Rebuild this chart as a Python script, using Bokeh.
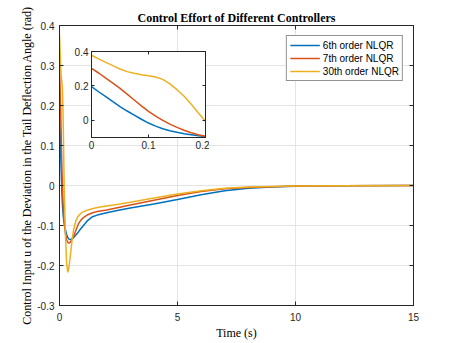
from bokeh.plotting import figure
from bokeh.models import (Range1d, LinearAxis, FixedTicker, Legend, LegendItem,
                          NumeralTickFormatter, CustomJSTickFormatter)
from bokeh.embed import file_html
from bokeh.resources import INLINE

# ---------------- data ----------------
time_s = [0, 0.0125, 0.025, 0.0375, 0.05, 0.0625, 0.075, 0.0875, 0.1, 0.1125,
          0.125, 0.1375, 0.15, 0.1625, 0.175, 0.1875, 0.2,
          0.25, 0.3, 0.35, 0.4, 0.45, 0.5, 0.55, 0.6, 0.7, 0.8, 0.9, 1.0, 1.2,
          1.4, 1.6, 2.0, 2.5, 3.0, 4.0, 5.0, 6.0, 7.0, 8.0, 9.0, 10.0, 12.0, 15.0]

u_6th = [0.196, 0.166, 0.137, 0.108, 0.080, 0.054, 0.030, 0.006, -0.016, -0.034,
         -0.049, -0.061, -0.070, -0.078, -0.084, -0.090, -0.094,
         -0.110, -0.122, -0.130, -0.134, -0.135, -0.135, -0.133, -0.130, -0.123,
         -0.116, -0.108, -0.101, -0.087, -0.078, -0.074, -0.068, -0.062, -0.056,
         -0.046, -0.035, -0.023, -0.013, -0.007, -0.004, -0.002, -0.0005, 0.0]

u_7th = [0.302, 0.275, 0.245, 0.216, 0.186, 0.152, 0.118, 0.084, 0.052, 0.024,
         0.000, -0.022, -0.041, -0.058, -0.072, -0.084, -0.093,
         -0.120, -0.135, -0.142, -0.144, -0.142, -0.137, -0.131, -0.126, -0.111,
         -0.096, -0.087, -0.081, -0.073, -0.068, -0.065, -0.061, -0.055, -0.049,
         -0.037, -0.025, -0.015, -0.008, -0.005, -0.003, -0.0015, -0.0005, 0.0]

u_30th = [0.378, 0.357, 0.337, 0.318, 0.298, 0.283, 0.273, 0.265, 0.259, 0.252,
          0.238, 0.212, 0.178, 0.140, 0.093, 0.043, -0.006,
          -0.120, -0.192, -0.217, -0.205, -0.180, -0.154, -0.128, -0.110, -0.087,
          -0.076, -0.070, -0.066, -0.061, -0.058, -0.055, -0.051, -0.047, -0.042,
          -0.031, -0.021, -0.013, -0.007, -0.004, -0.0025, -0.0015, -0.0005, 0.0]

series_names = ["6th order NLQR", "7th order NLQR", "30th order NLQR"]
x_ticks = [0, 5, 10, 15]
y_ticks = [-0.3, -0.2, -0.1, 0, 0.1, 0.2, 0.3, 0.4]
inset_x_ticks = [0, 0.1, 0.2]
inset_y_ticks = [0, 0.2, 0.4]

colors = ["#0072BD", "#D95319", "#EDB120"]
series = [u_6th, u_7th, u_30th]

AX = "#262626"
SANS = "Liberation Sans"
SERIF = "Liberation Serif"

# ---------------- main figure ----------------
p = figure(width=457, height=343, output_backend="svg", toolbar_location=None,
           x_range=Range1d(0, 15), y_range=Range1d(-0.3, 0.4),
           min_border_left=59, min_border_right=44, min_border_top=25,
           min_border_bottom=38, title="Control Effort of Different Controllers",
           outline_line_color=AX, outline_line_width=0.8)
p.title.text_font = SERIF
p.title.text_font_size = "12px"
p.title.text_font_style = "bold"
p.title.align = "center"
p.title.standoff = 1
p.title.text_color = "#000000"

p.xaxis.ticker = FixedTicker(ticks=x_ticks)
p.yaxis.ticker = FixedTicker(ticks=y_ticks)
p.yaxis.formatter = NumeralTickFormatter(format="0.[0]")
p.xaxis.axis_label = "Time (s)"
p.yaxis.axis_label = "Control Input u of the Deviation in the Tail Deflection Angle (rad)"
for ax in (p.xaxis, p.yaxis):
    ax.axis_label_text_font = SERIF
    ax.axis_label_text_font_size = "12px"
    ax.axis_label_text_font_style = "normal"
    ax.axis_label_text_color = "#000000"
    ax.major_label_text_font = SANS
    ax.major_label_text_font_size = "10px"
    ax.major_label_text_color = AX
    ax.major_tick_in = 4
    ax.major_tick_out = 0
    ax.minor_tick_line_color = None
    ax.axis_line_color = AX
    ax.major_tick_line_color = AX
p.xaxis.major_label_standoff = 7
p.xaxis.axis_label_standoff = 2
p.yaxis.major_label_standoff = 5
p.yaxis.axis_label_standoff = 0

empty_fmt = CustomJSTickFormatter(code="return ''")


def tick_only_axis(ticks, tick_len):
    return LinearAxis(ticker=FixedTicker(ticks=ticks), formatter=empty_fmt,
                      major_tick_in=tick_len, major_tick_out=0, minor_tick_line_color=None,
                      axis_line_color=AX, major_tick_line_color=AX,
                      major_label_standoff=0, major_label_text_font_size="1px")


p.add_layout(tick_only_axis(x_ticks, 4), "above")
p.add_layout(tick_only_axis(y_ticks, 4), "right")

p.grid.grid_line_color = "#e4e4e4"
p.grid.grid_line_width = 1

renderers = []
for ys, c in zip(series, colors):
    renderers.append(p.line(time_s, ys, line_color=c, line_width=1.5))

legend = Legend(items=[LegendItem(label=n, renderers=[r]) for n, r in zip(series_names, renderers)],
                location="top_right", margin=10, padding=3, spacing=1,
                glyph_width=30, glyph_height=12, label_height=12, label_standoff=3,
                label_text_font=SANS, label_text_font_size="10px",
                label_text_color="#000000", border_line_color=AX,
                border_line_width=0.8, background_fill_color="white",
                background_fill_alpha=1.0)
p.add_layout(legend)

# ---------------- inset figure ----------------
inset = figure(frame_width=114, frame_height=86, output_backend="svg",
               toolbar_location=None, x_range=Range1d(0, 0.2), y_range=Range1d(-0.1, 0.4),
               min_border_left=20, min_border_right=4, min_border_top=4,
               min_border_bottom=16, border_fill_alpha=0, background_fill_color="white",
               outline_line_color=AX, outline_line_width=0.8,
               styles={"position": "absolute", "left": "71px", "top": "47px"})
inset.xaxis.ticker = FixedTicker(ticks=inset_x_ticks)
inset.yaxis.ticker = FixedTicker(ticks=inset_y_ticks)
inset.xaxis.formatter = NumeralTickFormatter(format="0.[0]")
inset.yaxis.formatter = NumeralTickFormatter(format="0.[0]")
for ax in (inset.xaxis, inset.yaxis):
    ax.major_label_text_font = SANS
    ax.major_label_text_font_size = "10px"
    ax.major_label_text_color = AX
    ax.major_tick_in = 3
    ax.major_tick_out = 0
    ax.minor_tick_line_color = None
    ax.axis_line_color = AX
    ax.major_tick_line_color = AX
inset.xaxis.major_label_standoff = 3
inset.yaxis.major_label_standoff = 3
inset.grid.visible = False
inset.add_layout(tick_only_axis(inset_x_ticks, 3), "above")
inset.add_layout(tick_only_axis(inset_y_ticks, 3), "right")
for ys, c in zip(series, colors):
    inset.line(time_s, ys, line_color=c, line_width=1.5)

open("out.html", "w").write(file_html([p, inset], INLINE))
